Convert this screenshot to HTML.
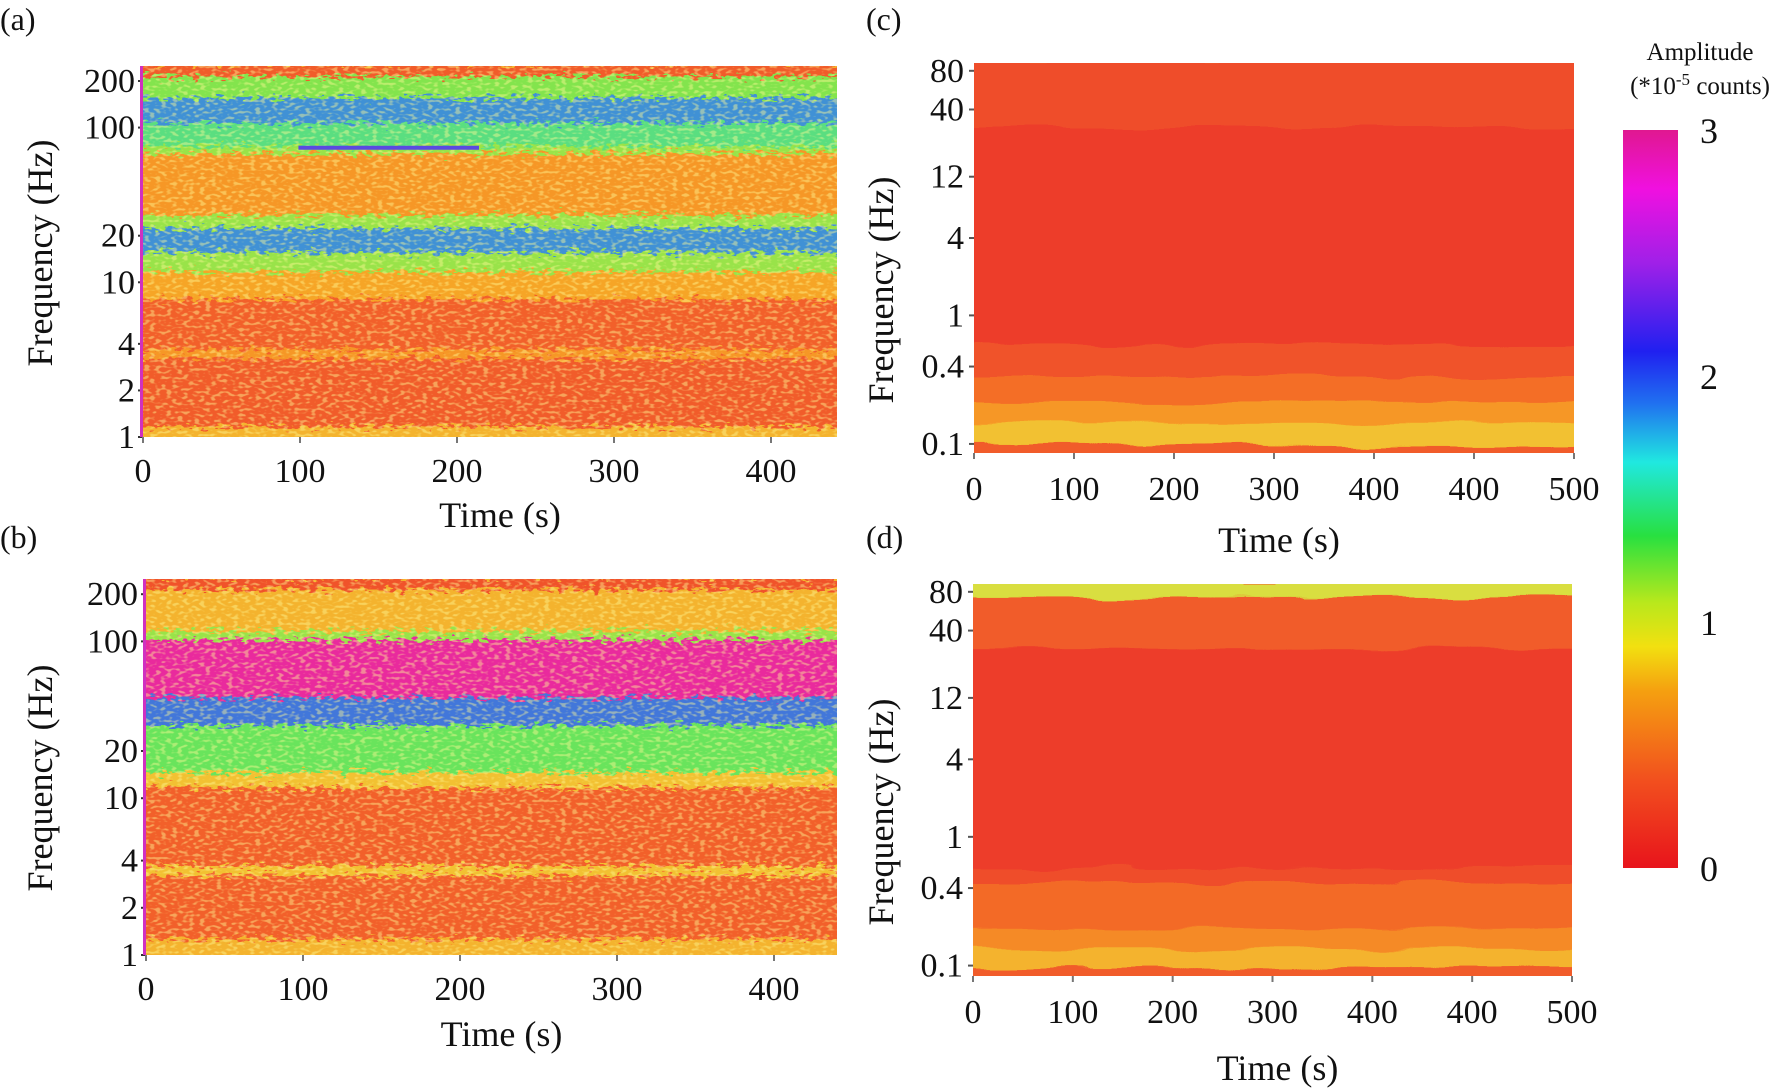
<!DOCTYPE html>
<html><head><meta charset="utf-8">
<style>
html,body{margin:0;padding:0;background:#fff;}
svg{display:block;font-family:"Liberation Serif",serif;}
</style></head>
<body>
<svg id="fig" width="1786" height="1089" viewBox="0 0 1786 1089" xmlns="http://www.w3.org/2000/svg">
<defs>
<filter id="speckle" x="0" y="0" width="1" height="1">
<feTurbulence type="fractalNoise" baseFrequency="0.12 0.3" numOctaves="2" seed="3" result="n"/>
<feDisplacementMap in="SourceGraphic" in2="n" scale="20" xChannelSelector="R" yChannelSelector="G"/>
</filter>
<filter id="smooth" x="0" y="0" width="1" height="1">
<feTurbulence type="fractalNoise" baseFrequency="0.012 0.08" numOctaves="2" seed="7" result="n"/>
<feDisplacementMap in="SourceGraphic" in2="n" scale="14" xChannelSelector="R" yChannelSelector="G"/>
</filter>
<filter id="grain" x="0" y="0" width="1" height="1">
<feTurbulence type="fractalNoise" baseFrequency="0.18 0.35" numOctaves="1" seed="11" result="n"/>
<feColorMatrix in="n" type="matrix" values="0 0 0 0 1  0 0 0 0 0.95  0 0 0 0 0.3  0 0 0 6 -3" />
</filter>
<linearGradient id="cbar" x1="0" y1="1" x2="0" y2="0">
<stop offset="0" stop-color="#e8141c"/><stop offset="0.12" stop-color="#f2501e"/>
<stop offset="0.24" stop-color="#f5a010"/><stop offset="0.3" stop-color="#f2e010"/>
<stop offset="0.36" stop-color="#b8e81c"/><stop offset="0.45" stop-color="#28e040"/>
<stop offset="0.55" stop-color="#20e8e0"/><stop offset="0.63" stop-color="#2070f0"/>
<stop offset="0.7" stop-color="#2020f0"/><stop offset="0.82" stop-color="#a020e8"/>
<stop offset="0.92" stop-color="#f010e0"/><stop offset="1" stop-color="#e01890"/>
</linearGradient>
</defs>
<g id="root"></g>
</svg>
<script>
// band profiles: [fLow, fHigh, amplitude (*1e-5 counts)]
const bandsA = [[1,1.2,0.55],[1.2,3.3,0.2],[3.3,3.8,0.45],[3.8,8,0.22],[8,12,0.5],[12,16,0.9],[16,23,1.75],[23,28,0.9],[28,70,0.45],[70,78,0.9],[78,110,1.2],[110,160,1.75],[160,220,0.95],[220,250,0.2]];
const bandsB = [[1,1.3,0.55],[1.3,3.3,0.22],[3.3,3.8,0.6],[3.8,12,0.22],[12,15,0.6],[15,30,1.05],[30,45,1.85],[45,105,2.95],[105,120,0.9],[120,220,0.55],[220,250,0.15]];
const bandsC = [[0.085,0.1,0.2],[0.1,0.15,0.6],[0.15,0.22,0.45],[0.22,0.35,0.3],[0.35,0.6,0.15],[0.6,30,0.03],[30,92,0.12]];
const bandsD = [[0.083,0.1,0.2],[0.1,0.14,0.55],[0.14,0.2,0.4],[0.2,0.45,0.28],[0.45,0.6,0.12],[0.6,30,0.03],[30,75,0.2],[75,92,0.75]];
// discrete line event in panel (a): [t0, t1, freq, amp]
const eventA = [99, 214, 74, 2.1];
const yTicksAB = [1,2,4,10,20,100,200];
const yTicksCD = [0.1,0.4,1,4,12,40,80];
const xTicksAB = [0,100,200,300,400];
const xTickLabelsCD = ["0","100","200","300","400","400","500"];
const cbarTicks = [0,1,2,3];

const NS="http://www.w3.org/2000/svg";
const root=document.getElementById('root');
function el(tag,attrs,parent){const e=document.createElementNS(NS,tag);for(const k in attrs)e.setAttribute(k,attrs[k]);(parent||root).appendChild(e);return e;}
const stops=[[0,[236,56,44]],[0.3,[244,110,40]],[0.5,[246,165,40]],[0.7,[238,220,60]],[1.0,[110,230,80]],[1.5,[60,210,200]],[2.0,[70,80,225]],[2.5,[170,50,220]],[3.0,[240,40,150]]];
function cmap(v){v=Math.max(0,Math.min(3,v));for(let i=1;i<stops.length;i++){if(v<=stops[i][0]){const a=stops[i-1],b=stops[i],t=(v-a[0])/(b[0]-a[0]);const c=a[1].map((x,j)=>Math.round(x+(b[1][j]-x)*t));return `rgb(${c})`;}}return 'rgb(240,40,150)';}

function panel(cfg){
  const {name,x0,x1,y0,y1,fmin,fmax,bands,filt,grain}=cfg;
  const g=el('g',{});
  
  
  const yS=f=>y1-(Math.log10(f)-Math.log10(fmin))/(Math.log10(fmax)-Math.log10(fmin))*(y1-y0);
  const cp='cp-'+name;
  const clip=el('clipPath',{id:cp},g);el('rect',{x:x0,y:y0,width:x1-x0,height:y1-y0},clip);
  const cg=el('g',{'clip-path':`url(#${cp})`},g);
  el('rect',{x:x0,y:y0,width:x1-x0,height:y1-y0,fill:cmap(bands[0][2])},cg);
  const bg=el('g',{filter:`url(#${filt})`},cg);
  bands.forEach((b,i)=>{
    const r=el('rect',{x:x0-20,y:yS(b[1])-2,width:x1-x0+40,height:yS(b[0])-yS(b[1])+4,fill:cmap(b[2])},bg);
    
    
  });
  if(grain){el('rect',{x:x0,y:y0,width:x1-x0,height:y1-y0,fill:'#fff',filter:'url(#grain)',opacity:grain},cg);}
  return {g,yS};
}
function label(txt,x,y,size,anchor,parent,name,rot){
  const t=el('text',{x,y,'font-size':size,'text-anchor':anchor||'middle',fill:'#111'},parent);
  if(rot)t.setAttribute('transform',`rotate(-90 ${x} ${y})`);
  t.textContent=txt;
  
  
  return t;
}
function abPanel(id,x0,x1,y0,y1,bands,ylabY,xlabY,letterY){
  const p=panel({name:'panel-'+id,x0,x1,y0,y1,fmin:1,fmax:250,bands,filt:'speckle',grain:0.45});
  const xS=t=>x0+(t/100)*157;
  yTicksAB.forEach(f=>{label(String(f),x0-8,p.yS(f)+11,34,'end',p.g,'y-tick-'+f);el('line',{x1:x0-5,x2:x0,y1:p.yS(f),y2:p.yS(f),stroke:'#333','stroke-width':2},p.g);});
  xTicksAB.forEach(t=>{label(String(t),xS(t),y1+45,34,'middle',p.g,'x-tick-'+t);el('line',{x1:xS(t),x2:xS(t),y1:y1,y2:y1+6,stroke:'#777','stroke-width':2},p.g);});
  label('Frequency (Hz)',52,ylabY,36,'middle',p.g,'y-axis-title',true);
  label('Time (s)',(x0+x1)/2+10,xlabY,36,'middle',p.g,'x-axis-title');
  label('('+id+')',0,letterY,32,'start',p.g,'panel-label-'+id);
  el('rect',{x:x0-3,y:y0,width:3,height:y1-y0,fill:'#d030c0'},p.g);
  return {p,xS};
}
const A=abPanel('a',143,837,66,437,bandsA,253,527,30);
const ev=el('line',{x1:A.xS(eventA[0]),x2:A.xS(eventA[1]),y1:A.p.yS(eventA[2]),y2:A.p.yS(eventA[2]),stroke:cmap(eventA[3]),'stroke-width':4},A.p.g);


abPanel('b',146,837,579,955,bandsB,778,1046,548);

function cdPanel(id,x0,x1,y0,y1,bands,ylabY,xlabY,letterY){
  const p=panel({name:'panel-'+id,x0,x1,y0,y1,fmin:y0<300?0.085:0.083,fmax:92,bands,filt:'smooth',grain:0});
  yTicksCD.forEach(f=>{label(String(f),x0-10,p.yS(f)+11,34,'end',p.g,'y-tick-'+f);el('line',{x1:x0-5,x2:x0,y1:p.yS(f),y2:p.yS(f),stroke:'#555','stroke-width':2},p.g);});
  const n=xTickLabelsCD.length;
  xTickLabelsCD.forEach((s,i)=>{const x=x0+i*(x1-x0)/(n-1);label(s,x,y1+47,34,'middle',p.g,'x-tick-'+i);el('line',{x1:x,x2:x,y1:y1,y2:y1+6,stroke:'#777','stroke-width':2},p.g);});
  label('Frequency (Hz)',893,ylabY,36,'middle',p.g,'y-axis-title',true);
  label('Time (s)',(x0+x1)/2+5,xlabY,36,'middle',p.g,'x-axis-title');
  label('('+id+')',866,letterY,32,'start',p.g,'panel-label-'+id);
}
cdPanel('c',974,1574,63,453,bandsC,290,552,30);
cdPanel('d',973,1572,584,976,bandsD,812,1080,548);

// colorbar
const cb=el('g',{});


const cy0=130,cy1=868;
el('rect',{x:1623,y:cy0,width:55,height:cy1-cy0,fill:'url(#cbar)'},cb);
cbarTicks.forEach(v=>{const y=cy1-(v/3)*(cy1-cy0);label(String(v),1700,y+13,36,'start',cb,'colorbar-tick-'+v);});
label('Amplitude',1700,60,25,'middle',cb,'colorbar-title');
const t2=el('text',{x:1700,y:94,'font-size':25,'text-anchor':'middle',fill:'#111'},cb);


t2.innerHTML='(*10<tspan dy="-9" font-size="17">-5</tspan><tspan dy="9"> counts)</tspan>';
</script>
</body></html>
